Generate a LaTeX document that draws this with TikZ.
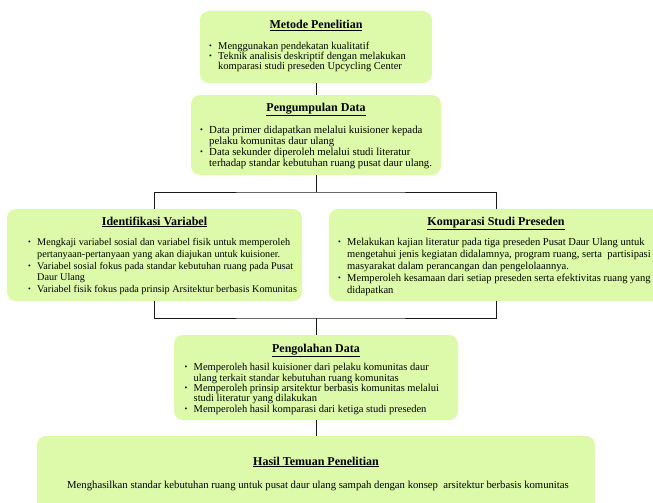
\documentclass[tikz,border=0pt]{standalone}
\usepackage{fontspec}
\setmainfont{Liberation Serif}
\usetikzlibrary{calc}
\definecolor{boxgreen}{RGB}{221,250,170}
\definecolor{linecol}{RGB}{25,25,25}
\newcommand\mybul{\makebox[9pt][l]{\raisebox{1pt}{\scalebox{0.75}{•}}}}
\newcommand\myind{\hspace*{9pt}}
\begin{document}
\begin{tikzpicture}[x=1pt,y=-1pt,
  boxnode/.style={fill=boxgreen,rounded corners=9pt,inner sep=0pt,outer sep=0pt},
  titlenode/.style={inner sep=0pt,font=\fontsize{12}{14}\selectfont\bfseries,anchor=base},
  bodynode/.style={inner sep=0pt,align=left,anchor=north west},
  conn/.style={draw=linecol,line width=0.9pt}]
\useasboundingbox (0,0) rectangle (653,503);
\clip (0,0) rectangle (653,503);
% boxes
\node[boxnode,minimum width=232pt,minimum height=72pt] (b1) at (316,47) {};
\node[boxnode,minimum width=250pt,minimum height=80pt] (b2) at (316,135) {};
\node[boxnode,minimum width=295pt,minimum height=92pt] (b3) at (154.5,255) {};
\node[boxnode,minimum width=334pt,minimum height=92pt] (b4) at (496,255) {};
\node[boxnode,minimum width=284pt,minimum height=85pt] (b5) at (316,377.5) {};
\node[boxnode,minimum width=558pt,minimum height=84pt] (b6) at (316,478) {};
% connectors
\draw[conn] (b1.south) -- (b2.north);
\coordinate (f1) at ($(b2.south)+(0,17)$);
\draw[conn] (b2.south) -- (f1);
\draw[conn] (b3.north) |- (f1) -| (b4.north);
\coordinate (f2) at ($(b5.north)+(0,-17)$);
\draw[conn] (b3.south) |- (f2) -| (b4.south);
\draw[conn] (f2) -- (b5.north);
\draw[conn] (b5.south) -- (b6.north);
% titles
\node[titlenode] (t1) at (316,29) {\underline{Metode Penelitian}};
\node[titlenode] (t2) at (316,111) {\underline{Pengumpulan Data}};
\node[titlenode] (t3) at (154.5,225) {\underline{Identifikasi Variabel}};
\node[titlenode] (t4) at (496,225) {\underline{Komparasi Studi Preseden}};
\node[titlenode] (t5) at (316,352) {\underline{Pengolahan Data}};
\node[titlenode] (t6) at (316,465) {\underline{Hasil Temuan Penelitian}};
% bodies
\node[bodynode,font=\fontsize{10.5}{10}\selectfont] (d1) at (209,42) {\mybul Menggunakan pendekatan kualitatif\\
\mybul Teknik analisis deskriptif dengan melakukan\\
\myind komparasi studi preseden Upcycling Center};
\node[bodynode,font=\fontsize{10.8}{11}\selectfont] (d2) at (200,125.5) {\mybul Data primer didapatkan melalui kuisioner kepada\\
\myind pelaku komunitas daur ulang\\
\mybul Data sekunder diperoleh melalui studi literatur\\
\myind terhadap standar kebutuhan ruang pusat daur ulang.};
\node[bodynode,font=\fontsize{10.2}{11.7}\selectfont] (d3) at (28,238.5) {\mybul Mengkaji variabel sosial dan variabel fisik untuk memperoleh\\
\myind pertanyaan-pertanyaan yang akan diajukan untuk kuisioner.\\
\mybul Variabel sosial fokus pada standar kebutuhan ruang pada Pusat\\
\myind Daur Ulang\\
\mybul Variabel fisik fokus pada prinsip Arsitektur berbasis Komunitas};
\node[bodynode,font=\fontsize{10.55}{12.1}\selectfont] (d4) at (338,237.5) {\mybul Melakukan kajian literatur pada tiga preseden Pusat Daur Ulang untuk\\
\myind mengetahui jenis kegiatan didalamnya, program ruang, serta\ \ partisipasi\\
\myind masyarakat dalam perancangan dan pengelolaannya.\\
\mybul Memperoleh kesamaan dari setiap preseden serta efektivitas ruang yang\\
\myind didapatkan};
\node[bodynode,font=\fontsize{10.5}{10.3}\selectfont] (d5) at (184.5,363.5) {\mybul Memperoleh hasil kuisioner dari pelaku komunitas daur\\
\myind ulang terkait standar kebutuhan ruang komunitas\\
\mybul Memperoleh prinsip arsitektur berbasis komunitas melalui\\
\myind studi literatur yang dilakukan\\
\mybul Memperoleh hasil komparasi dari ketiga studi preseden};
\node[inner sep=0pt,anchor=base,font=\fontsize{10.7}{12}\selectfont] (d6) at (318,488) {Menghasilkan standar kebutuhan ruang untuk pusat daur ulang sampah dengan konsep\ \ arsitektur berbasis komunitas};
\end{tikzpicture}
\end{document}
